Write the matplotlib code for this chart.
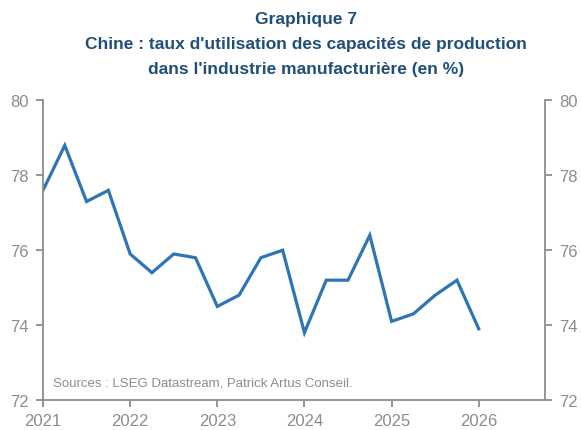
import numpy as np
import matplotlib.pyplot as plt
from matplotlib import font_manager

# Quarterly data, 2021 Q1 -> 2026 Q1
dates = [2021 + i * 0.25 for i in range(21)]
values = [77.6, 78.8, 77.3, 77.6, 75.9, 75.4, 75.9, 75.8, 74.5, 74.8, 75.8,
          76.0, 73.8, 75.2, 75.2, 76.4, 74.1, 74.3, 74.8, 75.2, 73.9]
years = [2021, 2022, 2023, 2024, 2025, 2026]
yticks = [72, 74, 76, 78, 80]

names = {f.name for f in font_manager.fontManager.ttflist}
fam = 'Liberation Sans Narrow' if 'Liberation Sans Narrow' in names else 'Liberation Sans'
plt.rcParams['font.family'] = [fam, 'DejaVu Sans']

grey = '#8c8c8c'
navy = '#1f4e79'

fig = plt.figure(figsize=(5.81, 4.31), dpi=100)
ax = fig.add_axes([0.074, 0.0696, 0.864, 0.695])

ax.plot(dates, values, color='#2e75b6', lw=2.3, solid_joinstyle='miter')

ax.set_xlim(2021, 2026.76)
ax.set_ylim(72, 80)
ax.set_xticks(years)
ax.set_yticks(yticks)

ax.spines['top'].set_visible(False)
for s in ['left', 'right', 'bottom']:
    ax.spines[s].set_color(grey)
    ax.spines[s].set_linewidth(1.3)

ax.tick_params(axis='both', colors=grey, labelcolor=grey, labelsize=12,
               length=5, width=1.3, direction='out')
ax.tick_params(axis='y', right=True, labelright=True, pad=5)
ax.tick_params(axis='x', pad=4)

ax.text(0.02, 0.04, 'Sources : LSEG Datastream, Patrick Artus Conseil.',
        transform=ax.transAxes, color=grey, fontsize=9.5, ha='left', va='bottom')

fig.text(0.527, 0.955, 'Graphique 7', ha='center', va='center',
         color=navy, fontsize=12.5, fontweight='bold')
fig.text(0.527, 0.897, "Chine : taux d'utilisation des capacités de production",
         ha='center', va='center', color=navy, fontsize=12.5, fontweight='bold')
fig.text(0.527, 0.839, "dans l'industrie manufacturière (en %)",
         ha='center', va='center', color=navy, fontsize=12.5, fontweight='bold')

fig.savefig('out.png', dpi=100)
